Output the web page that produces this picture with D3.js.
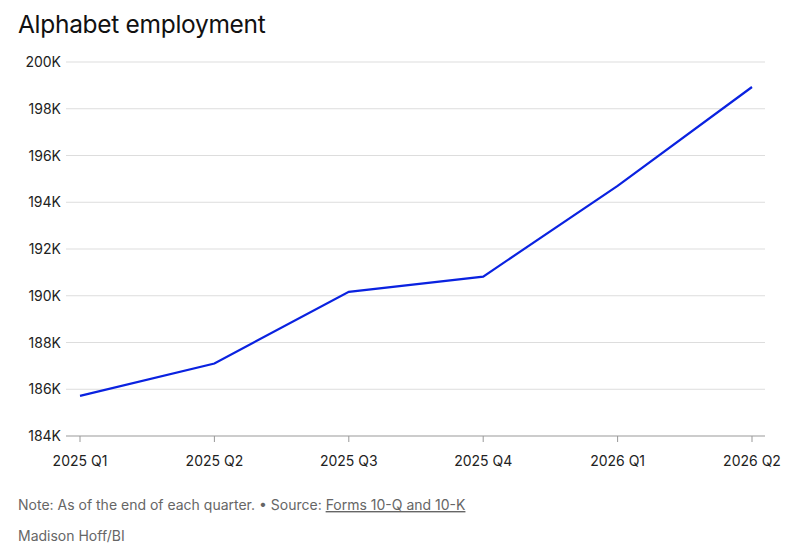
<!DOCTYPE html>
<html><head><meta charset="utf-8">
<script src="https://cdn.jsdelivr.net/npm/d3@7"></script>
<style>
body{margin:0;background:#fff;font-family:Inter,"Noto Sans",sans-serif;}
</style></head>
<body><svg id="chart" width="802" height="558"></svg>
<script>
const quarters = ["2025 Q1","2025 Q2","2025 Q3","2025 Q4","2026 Q1","2026 Q2"];
const employees = [185719, 187103, 190167, 190820, 194700, 198930];
const yTicks = [184000,186000,188000,190000,192000,194000,196000,198000,200000];

const svg = d3.select('#chart');
const x = d3.scalePoint().domain(quarters).range([80, 752]);
const y = d3.scaleLinear().domain([184000, 200000]).range([436, 62]);

svg.append('text').attr('x', 18).attr('y', 33)
  .attr('font-size', 24.5).attr('fill', '#111').attr('letter-spacing', '-0.3')
  .text('Alphabet employment');

svg.selectAll('.grid').data(yTicks).enter().append('line')
  .attr('x1', 66).attr('x2', 765)
  .attr('y1', d => y(d)).attr('y2', d => y(d))
  .attr('stroke', d => d === 184000 ? '#999' : '#ddd').attr('stroke-width', 1);

svg.selectAll('.ylab').data(yTicks).enter().append('text')
  .attr('x', 61).attr('y', d => y(d) + 5).attr('text-anchor', 'end')
  .attr('font-size', 14).attr('fill', '#222')
  .text(d => d / 1000 + 'K');

svg.selectAll('.xtick').data(quarters).enter().append('line')
  .attr('x1', d => x(d)).attr('x2', d => x(d))
  .attr('y1', 436).attr('y2', 442).attr('stroke', '#999');

svg.selectAll('.xlab').data(quarters).enter().append('text')
  .attr('x', d => x(d)).attr('y', 466).attr('text-anchor', 'middle')
  .attr('font-size', 14).attr('fill', '#222').text(d => d);

const line = d3.line().x((d, i) => x(quarters[i])).y(d => y(d));
svg.append('path').datum(employees).attr('d', line)
  .attr('fill', 'none').attr('stroke', '#0a22e0').attr('stroke-width', 2.2);

const note = svg.append('text').attr('x', 18).attr('y', 510)
  .attr('font-size', 14).attr('fill', '#666');
note.append('tspan').text('Note: As of the end of each quarter. • Source: ');
note.append('tspan').attr('text-decoration', 'underline').text('Forms 10-Q and 10-K');

svg.append('text').attr('x', 18).attr('y', 541)
  .attr('font-size', 14).attr('fill', '#666').text('Madison Hoff/BI');
</script></body></html>
